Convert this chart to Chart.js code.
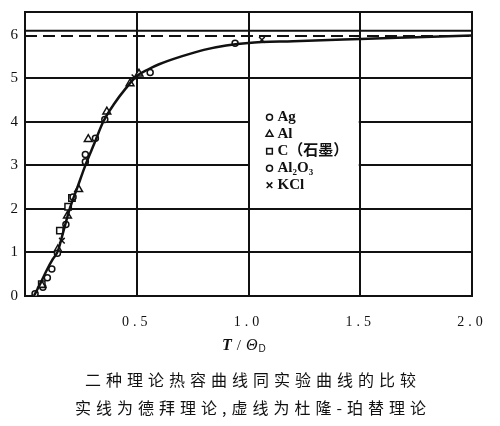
<!DOCTYPE html>
<html>
<head>
<meta charset="utf-8">
<script src="https://cdn.jsdelivr.net/npm/chart.js@4"></script>
<style>
  body { margin: 0; background: #fff; }
  canvas { display: block; }
</style>
</head>
<body>
<canvas id="heatChart" width="500" height="426"></canvas>
<script>
// Axis ticks
const xTicks = [0, 0.5, 1.0, 1.5, 2.0]
const yTicks = [0, 1, 2, 3, 4, 5, 6]

// Debye curve (solid)
const debyeX = [0.04, 0.07, 0.1, 0.125, 0.147, 0.17, 0.2, 0.235, 0.27, 0.31, 0.35, 0.4, 0.45, 0.5, 0.55, 0.6, 0.7, 0.8, 0.9, 1.0, 1.2, 1.5, 1.75, 2.0]
const debyeY = [0.0, 0.3, 0.62, 0.85, 1.03, 1.45, 2.0, 2.5, 3.0, 3.5, 4.0, 4.42, 4.76, 5.05, 5.2, 5.32, 5.5, 5.65, 5.75, 5.81, 5.85, 5.9, 5.94, 5.98]

// Dulong-Petit (dashed) and the top rule
const dulongX = [0, 2.0]
const dulongY = [5.97, 5.97]
const ruleX = [0, 2.0]
const ruleY = [6.09, 6.09]

// Experimental points
const agX = [0.045, 0.1, 0.145, 0.215, 0.27, 0.56, 0.94]
const agY = [0.05, 0.42, 0.98, 2.27, 3.25, 5.13, 5.8]
const alX = [0.075, 0.147, 0.19, 0.24, 0.283, 0.366, 0.47, 0.51]
const alY = [0.25, 1.07, 1.84, 2.45, 3.6, 4.23, 4.88, 5.1]
const cX = [0.075, 0.156, 0.193, 0.21]
const cY = [0.27, 1.5, 2.05, 2.25]
const al2o3X = [0.08, 0.12, 0.183, 0.27, 0.315, 0.357]
const al2o3Y = [0.2, 0.62, 1.64, 3.08, 3.62, 4.05]
const kclX = [0.165, 0.49, 1.06]
const kclY = [1.27, 5.02, 5.88]

const legendItems = [
  { style: "circle", label: "Ag" },
  { style: "triangle", label: "Al" },
  { style: "rect", label: "C（石墨）" },
  { style: "circle", label: "Al₂O₃" },
  { style: "crossRot", label: "KCl" },
]

const ink = "#111"
const pts = (xs, ys) => xs.map((x, i) => ({ x: x, y: ys[i] }))

function markerSet(label, xs, ys, style, radius) {
  return {
    label: label,
    data: pts(xs, ys),
    showLine: false,
    pointStyle: style,
    pointRadius: radius,
    pointBorderWidth: 1.5,
    pointBorderColor: ink,
    pointBackgroundColor: "#fff",
  }
}

// Inner legend cell, grid hidden inside
const legendCell = {
  id: "legendCell",
  beforeDatasetsDraw(chart) {
    const { ctx, scales } = chart
    const l = scales.x.getPixelForValue(1.0)
    const r = scales.x.getPixelForValue(1.5)
    const t = scales.y.getPixelForValue(5)
    const b = scales.y.getPixelForValue(2)
    ctx.save()
    ctx.letterSpacing = "0px"
    ctx.fillStyle = "#fff"
    ctx.fillRect(l + 1.5, t + 1.5, r - l - 3, b - t - 3)
    // frame
    const a = chart.chartArea
    ctx.strokeStyle = ink
    ctx.lineWidth = 2
    ctx.strokeRect(a.left, a.top, a.right - a.left, a.bottom - a.top)

    legendItems.forEach((item, i) => {
      const y = t + 39 + i * 17
      ctx.fillStyle = "#fff"
      ctx.strokeStyle = ink
      ctx.lineWidth = 1.5
      Chart.helpers.drawPoint(ctx, { pointStyle: item.style, radius: item.style === "circle" ? 3 : 4, rotation: 0, borderWidth: 1.5 }, l + 21, y)
      ctx.font = "bold 15px 'Liberation Serif', 'Noto Sans CJK SC', serif"
      ctx.fillStyle = ink
      ctx.textBaseline = "middle"
      ctx.fillText(item.label, l + 29, y)
    })
    ctx.restore()
  },
}

// Spaced tick lettering like the printed figure
const spacing = {
  id: "spacing",
  beforeDraw(chart) {
    chart.ctx.letterSpacing = "4px"
  },
  beforeDatasetsDraw(chart) {
    chart.ctx.letterSpacing = "0px"
  },
}

// Axis title and caption
const captions = {
  id: "captions",
  afterDraw(chart) {
    const ctx = chart.ctx
    ctx.save()
    ctx.letterSpacing = "0px"
    ctx.fillStyle = ink
    ctx.textBaseline = "alphabetic"
    ctx.textAlign = "left"
    // T / ΘD
    let x = 222
    const y = 350
    ctx.font = "bold italic 16px 'Liberation Serif', serif"
    ctx.fillText("T", x, y)
    x += ctx.measureText("T").width + 5
    ctx.font = "15px 'Liberation Serif', serif"
    ctx.fillText("/", x, y)
    x += ctx.measureText("/").width + 5
    ctx.font = "italic 16px 'Liberation Serif', serif"
    ctx.fillText("Θ", x, y)
    x += ctx.measureText("Θ").width + 1
    ctx.font = "10px 'Liberation Sans', sans-serif"
    ctx.fillText("D", x, y + 2)

    ctx.font = "16px 'Noto Sans CJK SC', sans-serif"
    ctx.textAlign = "center"
    ctx.letterSpacing = "5px"
    ctx.fillText("二种理论热容曲线同实验曲线的比较", 253, 386)
    ctx.fillText("实线为德拜理论,虚线为杜隆-珀替理论", 253, 414)
    ctx.restore()
  },
}

const canvas = document.getElementById("heatChart")
new Chart(canvas.getContext("2d"), {
  type: "scatter",
  data: {
    datasets: [
      {
        label: "Debye",
        data: pts(debyeX, debyeY),
        showLine: true,
        borderColor: ink,
        borderWidth: 2.5,
        pointRadius: 0,
        cubicInterpolationMode: "monotone",
      },
      {
        label: "Dulong-Petit",
        data: pts(dulongX, dulongY),
        showLine: true,
        borderColor: ink,
        borderWidth: 2,
        borderDash: [12, 6],
        pointRadius: 0,
      },
      {
        label: "rule",
        data: pts(ruleX, ruleY),
        showLine: true,
        borderColor: ink,
        borderWidth: 2,
        pointRadius: 0,
      },
      markerSet("Ag", agX, agY, "circle", 3),
      markerSet("Al", alX, alY, "triangle", 4.5),
      markerSet("C", cX, cY, "rect", 4.5),
      markerSet("Al2O3", al2o3X, al2o3Y, "circle", 3),
      markerSet("KCl", kclX, kclY, "crossRot", 4),
    ],
  },
  options: {
    responsive: false,
    animation: false,
    devicePixelRatio: 1,
    layout: { padding: { left: 0, right: 28, top: 9, bottom: 0 } },
    plugins: {
      legend: { display: false },
      tooltip: { enabled: false },
    },
    scales: {
      x: {
        type: "linear",
        min: 0,
        max: 2.0,
        afterBuildTicks: (scale) => { scale.ticks = xTicks.map((v) => ({ value: v })) },
        afterFit: (scale) => { scale.height = 130 },
        grid: {
          color: ink,
          lineWidth: 2,
          drawTicks: false,
        },
        border: { color: ink, width: 2 },
        ticks: {
          padding: 18,
          color: ink,
          font: { family: "'Liberation Serif', serif", size: 14 },
          callback: (v) => (v === 0 ? "" : v.toFixed(1)),
        },
      },
      y: {
        type: "linear",
        min: 0,
        max: 6.52,
        afterBuildTicks: (scale) => { scale.ticks = yTicks.map((v) => ({ value: v })) },
        afterFit: (scale) => { scale.width = 25 },
        grid: {
          color: (c) => (c.tick && c.tick.value === 6 ? "rgba(0,0,0,0)" : ink),
          lineWidth: 2,
          drawTicks: false,
        },
        border: { color: ink, width: 2 },
        ticks: {
          padding: 3,
          color: ink,
          font: { family: "'Liberation Serif', serif", size: 15 },
        },
      },
    },
  },
  plugins: [spacing, legendCell, captions],
})
</script>
</body>
</html>
